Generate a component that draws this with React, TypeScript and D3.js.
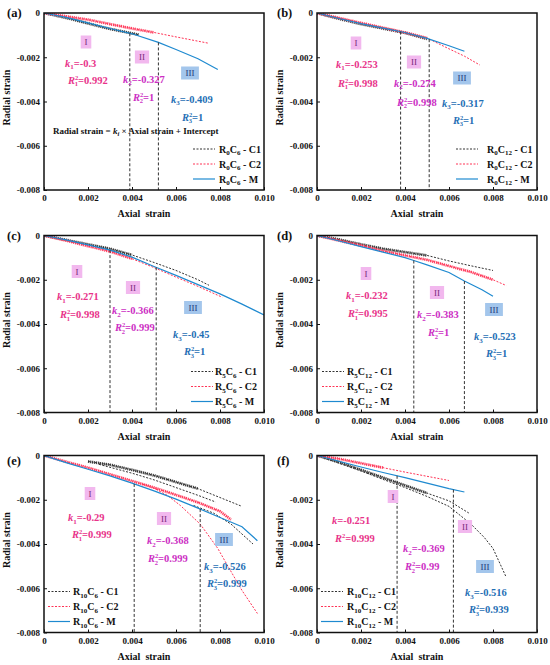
import React, { useEffect, useRef } from 'react';
import * as d3 from 'd3';

type Pt = [number, number];

const xTicks = [0, 0.002, 0.004, 0.006, 0.008, 0.01];
const yTicks = [0, -0.002, -0.004, -0.006, -0.008];

// (a) R0C6
const aC1: Pt[] = [[0, 0], [0.001, -0.00022], [0.002, -0.00047], [0.003, -0.00072], [0.0043, -0.00098]];
const aC2: Pt[] = [[0, 0], [0.001, -0.00015], [0.002, -0.0003], [0.003, -0.0005], [0.004, -0.0007], [0.005, -0.00088], [0.006, -0.00108], [0.0075, -0.00137]];
const aM: Pt[] = [[0, 0], [0.001, -0.0002], [0.002, -0.00045], [0.003, -0.0007], [0.004, -0.00094], [0.0052, -0.00133], [0.006, -0.00165], [0.007, -0.00207], [0.0079, -0.00255]];

// (b) R0C12
const bC1: Pt[] = [[0, 0], [0.001, -0.00026], [0.002, -0.0005], [0.003, -0.0007], [0.004, -0.0009], [0.005, -0.00117]];
const bC2: Pt[] = [[0, 0], [0.002, -0.00045], [0.004, -0.00088], [0.005, -0.00113], [0.006, -0.00162], [0.0067, -0.00195], [0.0074, -0.00235]];
const bM: Pt[] = [[0, 0], [0.001, -0.00025], [0.002, -0.00048], [0.003, -0.00068], [0.004, -0.00088], [0.005, -0.00115], [0.006, -0.00148], [0.0067, -0.00173]];

// (c) R5C6
const cC1: Pt[] = [[0, 0], [0.001, -0.0002], [0.002, -0.0004], [0.003, -0.0006], [0.004, -0.00088], [0.005, -0.00122], [0.006, -0.00158], [0.007, -0.002], [0.0075, -0.00225]];
const cC2: Pt[] = [[0, 0], [0.001, -0.00023], [0.002, -0.00048], [0.003, -0.00072], [0.004, -0.00105], [0.005, -0.00145], [0.006, -0.00188], [0.007, -0.0023], [0.0081, -0.00279]];
const cM: Pt[] = [[0, 0], [0.001, -0.0002], [0.002, -0.00042], [0.003, -0.00066], [0.004, -0.00098], [0.005, -0.0014], [0.006, -0.0018], [0.007, -0.00222], [0.008, -0.00264], [0.009, -0.0031], [0.01, -0.00359]];

// (d) R5C12
const dC1: Pt[] = [[0, 0], [0.001, -0.00018], [0.002, -0.0004], [0.003, -0.0006], [0.004, -0.00075], [0.005, -0.0009], [0.006, -0.00115], [0.007, -0.00137], [0.008, -0.00158]];
const dC2: Pt[] = [[0, 0], [0.001, -0.00023], [0.002, -0.00045], [0.003, -0.0007], [0.004, -0.0009], [0.005, -0.0011], [0.006, -0.00138], [0.007, -0.00165], [0.008, -0.002], [0.0086, -0.00226]];
const dM: Pt[] = [[0, 0], [0.001, -0.00025], [0.002, -0.0005], [0.003, -0.00075], [0.004, -0.001], [0.0044, -0.00113], [0.005, -0.00133], [0.006, -0.00167], [0.0067, -0.00206], [0.0075, -0.00245], [0.008, -0.00275]];

// (e) R10C6
const eC1: Pt[] = [[0.002, -0.00027], [0.003, -0.00042], [0.004, -0.00065], [0.005, -0.0009], [0.006, -0.0012], [0.007, -0.0015], [0.008, -0.0019], [0.009, -0.0023]];
const eC1b: Pt[] = [[0.0025, -0.0004], [0.004, -0.0008], [0.005, -0.0011], [0.006, -0.00145], [0.007, -0.0018], [0.0078, -0.0021]];
const eC1c: Pt[] = [[0.0068, -0.00226], [0.0077, -0.0026], [0.0085, -0.0031], [0.0095, -0.004]];
const eC2: Pt[] = [[0, 0], [0.001, -0.00028], [0.002, -0.00055], [0.003, -0.00085], [0.004, -0.00115], [0.005, -0.00145], [0.006, -0.00178], [0.007, -0.00212], [0.008, -0.00252], [0.0085, -0.0029]];
const eC2b: Pt[] = [[0.0045, -0.0013], [0.005, -0.00148], [0.0056, -0.0018], [0.0062, -0.00226], [0.0071, -0.0031], [0.0079, -0.0042], [0.0083, -0.0049], [0.009, -0.0061], [0.0097, -0.00714]];
const eM: Pt[] = [[0, 0], [0.001, -0.00032], [0.002, -0.00062], [0.003, -0.00092], [0.004, -0.00125], [0.005, -0.0016], [0.006, -0.00197], [0.007, -0.00238], [0.008, -0.0028], [0.009, -0.00322], [0.0097, -0.00385]];

// (f) R10C12
const fC1: Pt[] = [[0, 0], [0.001, -0.0003], [0.002, -0.00065], [0.003, -0.001], [0.004, -0.00135], [0.005, -0.0017], [0.006, -0.00205], [0.0069, -0.0026]];
const fC1b: Pt[] = [[0, 0], [0.001, -0.00035], [0.002, -0.0007], [0.003, -0.00108], [0.004, -0.00145], [0.005, -0.00185], [0.006, -0.0023], [0.007, -0.0031], [0.0076, -0.0037], [0.008, -0.0042], [0.0086, -0.0055]];
const fC2: Pt[] = [[0, 0], [0.001, -0.00015], [0.002, -0.00035], [0.003, -0.00055], [0.004, -0.00075], [0.005, -0.00094], [0.006, -0.00113]];
const fM: Pt[] = [[0, 0], [0.001, -0.00026], [0.002, -0.00052], [0.003, -0.00077], [0.004, -0.001], [0.005, -0.00125], [0.006, -0.0015], [0.0067, -0.00165]];

const panelNames = ['(a)', '(b)', '(c)', '(d)', '(e)', '(f)'];
const specimens = [['0', '6'], ['0', '12'], ['5', '6'], ['5', '12'], ['10', '6'], ['10', '12']];
const kValues = [['-0.3', '-0.327', '-0.409'], ['-0.253', '-0.274', '-0.317'], ['-0.271', '-0.366', '-0.45'], ['-0.232', '-0.383', '-0.523'], ['-0.29', '-0.368', '-0.526'], ['-0.251', '-0.369', '-0.516']];
const r2Values = [['0.992', '1', '1'], ['0.998', '0.998', '1'], ['0.998', '0.999', '1'], ['0.995', '1', '1'], ['0.999', '0.999', '0.999'], ['0.999', '0.99', '0.939']];
const splitStrains = [[0.0039, 0.0052], [0.0038, 0.0051], [0.003, 0.0051], [0.0044, 0.0067], [0.0041, 0.0071], [0.00364, 0.0062]];
const stageNames = ['I', 'II', 'III'];
const legendSuffix = ['C1', 'C2', 'M'];

type Kind = 'C1' | 'C2' | 'M';
interface Series { pts: Pt[]; kind: Kind; band?: number }

const panelSeries: Series[][] = [
  [{ pts: aC1, kind: 'C1', band: 0.0043 }, { pts: aC2, kind: 'C2', band: 0.0051 }, { pts: aM, kind: 'M' }],
  [{ pts: bC1, kind: 'C1', band: 0.005 }, { pts: bC2, kind: 'C2', band: 0.005 }, { pts: bM, kind: 'M' }],
  [{ pts: cC1, kind: 'C1', band: 0.0045 }, { pts: cC2, kind: 'C2', band: 0.0045 }, { pts: cM, kind: 'M' }],
  [{ pts: dC1, kind: 'C1', band: 0.005 }, { pts: dC2, kind: 'C2', band: 0.008 }, { pts: dM, kind: 'M' }],
  [{ pts: eC1, kind: 'C1', band: 0.0075 }, { pts: eC1b, kind: 'C1' }, { pts: eC1c, kind: 'C1' }, { pts: eC2, kind: 'C2', band: 0.0085 }, { pts: eC2b, kind: 'C2' }, { pts: eM, kind: 'M' }],
  [{ pts: fC1, kind: 'C1', band: 0.005 }, { pts: fC1b, kind: 'C1' }, { pts: fC2, kind: 'C2', band: 0.003 }, { pts: fM, kind: 'M' }],
];

// layout (pixels)
const W = 550, H = 665;
const plotW = 220, plotH = 177;
const origins: Pt[] = [[44, 13], [317, 13], [44, 235.5], [317, 235.5], [44, 455.5], [317, 455.5]];
const labelDy = [4, 4, 4, 4, 9, 9];
const boxPos: Pt[][] = [
  [[42, 29], [98, 44], [146, 60]],
  [[39, 30], [97, 49], [145, 65]],
  [[33, 36], [89, 52], [149, 72]],
  [[49, 38], [120, 57], [177, 74]],
  [[46, 38], [120, 63], [180, 84]],
  [[76, 41], [148, 71], [168, 111]],
];
const kPos: Pt[][] = [
  [[21, 50], [79, 66], [127, 86]],
  [[19, 51], [77, 70], [125, 90]],
  [[13, 61], [68, 75], [129, 99]],
  [[29, 60], [100, 79], [157, 101]],
  [[24, 62], [103, 85], [160, 111]],
  [[15, 65], [86, 93], [148, 137]],
];
const rPos: Pt[][] = [
  [[24, 67], [89, 84], [138, 104]],
  [[21, 70], [80, 89], [136, 107]],
  [[16, 79], [71, 92], [140, 116]],
  [[31, 78], [111, 97], [169, 118]],
  [[28, 79], [104, 103], [163, 128]],
  [[18, 83], [88, 111], [152, 154]],
];
const legendPos = [[149, 175], [139, 170], [147, 171], [5, 30], [4, 29], [4, 30]];
const legendRows = [136, 151, 166];

const FONT = "'Liberation Serif', 'Times New Roman', serif";
const stageColors = ['#e8338a', '#cc2fc4', '#1f6fb5'];
const boxFill = ['#f2b8ee', '#f2b8ee', '#a3c6ec'];
const boxText = ['#7a2a7a', '#7a2a7a', '#1a3a7a'];
const seriesStyle: Record<Kind, { stroke: string; dash: string | null; width: number }> = {
  C1: { stroke: '#333333', dash: '2,1.5', width: 1 },
  C2: { stroke: '#ff3355', dash: '2,1.5', width: 1 },
  M: { stroke: '#1f8ad0', dash: null, width: 1.2 },
};

const App = () => {
  const ref = useRef<SVGSVGElement>(null);

  useEffect(() => {
    const svg = d3.select(ref.current);
    svg.selectAll('*').remove();
    svg.append('rect').attr('width', W).attr('height', H).attr('fill', 'white');

    const x = d3.scaleLinear().domain([0, 0.01]).range([0, plotW]);
    const y = d3.scaleLinear().domain([0, -0.008]).range([0, plotH]);
    const line = d3.line<Pt>().x(d => x(d[0])).y(d => y(d[1]));
    const fmt = (d: d3.NumberValue) => (+d === 0 ? '0' : (+d).toFixed(3));

    origins.forEach((o, p) => {
      const g = svg.append('g').attr('transform', `translate(${o[0]},${o[1]})`)
        .style('font-family', FONT);

      g.append('clipPath').attr('id', `clip-${p}`)
        .append('rect').attr('width', plotW).attr('height', plotH);

      // axes
      const xa = g.append('g').attr('transform', `translate(0,${plotH})`)
        .call(d3.axisBottom(x).tickValues(xTicks).tickFormat(fmt).tickSizeInner(-3).tickSizeOuter(0).tickPadding(5));
      const ya = g.append('g')
        .call(d3.axisLeft(y).tickValues(yTicks).tickFormat(fmt).tickSizeInner(-3).tickSizeOuter(0).tickPadding(4));
      [xa, ya].forEach(a => {
        a.select('.domain').remove();
        a.selectAll('text').attr('font-size', 9).attr('font-weight', 'bold').attr('font-family', FONT).attr('fill', '#111');
        a.selectAll('line').attr('stroke', '#111');
      });

      // curves
      const plot = g.append('g').attr('clip-path', `url(#clip-${p})`);
      panelSeries[p].forEach(s => {
        const st = seriesStyle[s.kind];
        if (s.band !== undefined) {
          const bandPts = s.pts.filter(d => d[0] <= s.band! + 1e-9);
          plot.append('path').attr('d', line(bandPts))
            .attr('fill', 'none').attr('stroke', st.stroke).attr('stroke-width', 2.8)
            .attr('stroke-dasharray', '1.2,0.8').attr('opacity', 0.9);
        }
        plot.append('path').attr('d', line(s.pts))
          .attr('fill', 'none').attr('stroke', st.stroke).attr('stroke-width', st.width)
          .attr('stroke-dasharray', st.dash);
      });

      // stage split lines
      const mSeries = panelSeries[p].find(s => s.kind === 'M')!;
      const mInterp = d3.scaleLinear().domain(mSeries.pts.map(d => d[0])).range(mSeries.pts.map(d => d[1]));
      splitStrains[p].forEach(v => {
        g.append('line').attr('x1', x(v)).attr('x2', x(v))
          .attr('y1', y(mInterp(v))).attr('y2', plotH)
          .attr('stroke', '#333').attr('stroke-width', 1).attr('stroke-dasharray', '3,2');
      });

      // frame
      g.append('rect').attr('width', plotW).attr('height', plotH)
        .attr('fill', 'none').attr('stroke', '#111').attr('stroke-width', 1.5);

      // stage boxes
      stageNames.forEach((nm, i) => {
        const [bx, by] = boxPos[p][i];
        const bw = nm.length * 3.6 + 7;
        g.append('rect').attr('x', bx - bw / 2).attr('y', by - 6.5).attr('width', bw).attr('height', 13)
          .attr('fill', boxFill[i]);
        g.append('text').attr('x', bx).attr('y', by + 3).attr('text-anchor', 'middle')
          .attr('font-size', 9).attr('fill', boxText[i]).text(nm);
      });

      // slope and R² labels
      const plain = p === 5;
      [0, 1, 2].forEach(i => {
        const col = stageColors[i];
        const [kx, ky] = kPos[p][i];
        const kt = g.append('text').attr('x', kx).attr('y', ky + 3.5)
          .attr('font-size', 10.5).attr('font-weight', 'bold').attr('fill', col);
        kt.append('tspan').attr('font-style', 'italic').text('k');
        if (plain && i === 0) {
          kt.append('tspan').text('=' + kValues[p][i]);
        } else {
          kt.append('tspan').attr('font-size', 7).attr('dy', 2.5).text(String(i + 1));
          kt.append('tspan').attr('dy', -2.5).text('=' + kValues[p][i]);
        }
        const [rx, ry] = rPos[p][i];
        const rt = g.append('text').attr('x', rx).attr('y', ry + 3.5)
          .attr('font-size', 10.5).attr('font-weight', 'bold').attr('fill', col);
        rt.append('tspan').attr('font-style', 'italic').text('R');
        if (plain && i === 0) {
          rt.append('tspan').attr('font-size', 6.5).attr('dy', -4).text('2');
          rt.append('tspan').attr('dy', 4).text('=' + r2Values[p][i]);
        } else {
          rt.append('tspan').attr('font-size', 6.5).attr('dy', -4).text('2');
          rt.append('tspan').attr('font-size', 6.5).attr('dx', -3.4).attr('dy', 6.5).text(String(i + 1));
          rt.append('tspan').attr('dy', -2.5).text('=' + r2Values[p][i]);
        }
      });

      if (p === 0) {
        const ft = g.append('text').attr('x', 9).attr('y', 121).attr('font-size', 9)
          .attr('font-weight', 'bold').attr('fill', '#111').style('white-space', 'pre');
        ft.append('tspan').text('Radial strain = ');
        ft.append('tspan').attr('font-style', 'italic').text('k');
        ft.append('tspan').attr('font-size', 6.5).attr('font-style', 'italic').attr('dy', 2).text('i');
        ft.append('tspan').attr('dy', -2).text(' × Axial strain + Intercept');
      }

      // legend
      const [lx, tx] = legendPos[p];
      (['C1', 'C2', 'M'] as Kind[]).forEach((kd, i) => {
        const st = seriesStyle[kd];
        const ry = legendRows[i];
        g.append('line').attr('x1', lx).attr('x2', lx + 22).attr('y1', ry).attr('y2', ry)
          .attr('stroke', st.stroke).attr('stroke-width', st.width).attr('stroke-dasharray', st.dash);
        const lt = g.append('text').attr('x', tx).attr('y', ry + 3.5).attr('font-size', 10)
          .attr('font-weight', 'bold').attr('fill', '#111').style('white-space', 'pre');
        lt.append('tspan').text('R');
        lt.append('tspan').attr('font-size', 7).attr('dy', 2.5).text(specimens[p][0]);
        lt.append('tspan').attr('dy', -2.5).text('C');
        lt.append('tspan').attr('font-size', 7).attr('dy', 2.5).text(specimens[p][1]);
        lt.append('tspan').attr('dy', -2.5).text(' - ' + legendSuffix[i]);
      });

      // titles
      g.append('text').attr('x', plotW / 2 - 10).attr('y', plotH + 27).attr('text-anchor', 'middle')
        .attr('font-size', 10).attr('font-weight', 'bold').attr('fill', '#111')
        .style('white-space', 'pre').text('Axial  strain');
      g.append('text').attr('transform', `translate(-34,${plotH / 2 - 4}) rotate(-90)`)
        .attr('text-anchor', 'middle').attr('font-size', 10).attr('font-weight', 'bold').attr('fill', '#111')
        .text('Radial strain');
      g.append('text').attr('x', p % 2 === 0 ? -37 : -40).attr('y', labelDy[p])
        .attr('font-size', 12.5).attr('font-weight', 'bold').attr('fill', '#111').text(panelNames[p]);
    });
  }, []);

  return <svg ref={ref} width={W} height={H} style={{ position: 'absolute', left: 0, top: 0 }} />;
};

export default App;
